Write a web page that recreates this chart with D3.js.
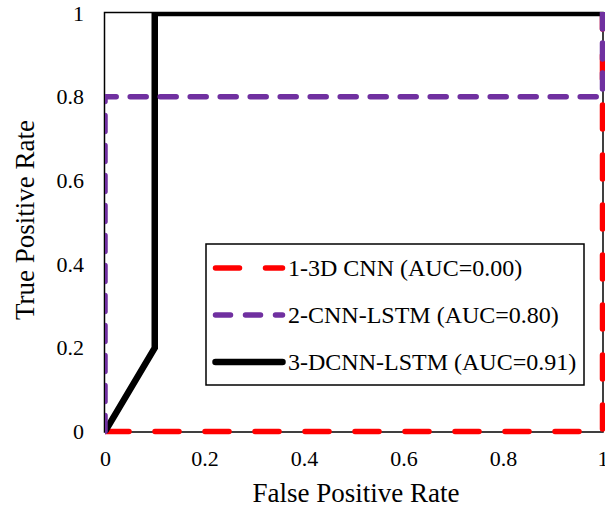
<!DOCTYPE html>
<html><head><meta charset="utf-8">
<script src="https://cdn.jsdelivr.net/npm/d3@7"></script>
<style>body{margin:0;background:#fff}svg{display:block}</style>
</head><body>
<svg id="c" width="605" height="511"></svg>
<script>
const xTicks = [0, 0.2, 0.4, 0.6, 0.8, 1];
const yTicks = [0, 0.2, 0.4, 0.6, 0.8, 1];
const seriesNames = ["1-3D CNN (AUC=0.00)", "2-CNN-LSTM (AUC=0.80)", "3-DCNN-LSTM (AUC=0.91)"];
const cnn3dFpr = [0, 1, 1];
const cnn3dTpr = [0, 0, 1];
const cnnLstmFpr = [0, 0, 1, 1];
const cnnLstmTpr = [0, 0.8, 0.8, 1];
const dcnnLstmFpr = [0, 0.1, 0.1, 1];
const dcnnLstmTpr = [0, 0.2, 1, 1];

const svg = d3.select("#c");
const m = {l:105, t:13, r:602.5, b:431.5};
const x = d3.scaleLinear().domain([0,1]).range([m.l, m.r]);
const y = d3.scaleLinear().domain([0,1]).range([m.b, m.t]);
const font = "'Liberation Serif','Times New Roman',serif";

svg.append("defs").append("clipPath").attr("id","clip")
  .append("rect").attr("x", m.l).attr("y", 12).attr("width", 700).attr("height", 500);

// frame
svg.append("rect").attr("x", 104.5).attr("y", 12.5).attr("width", 603-104.5).attr("height", 432-12.5)
  .attr("fill","none").attr("stroke","#000").attr("stroke-width",1.5);

const fmt = d => d===0||d===1 ? String(d) : d.toFixed(1);
const xa = svg.append("g").attr("transform",`translate(0,${m.b})`)
  .call(d3.axisBottom(x).tickValues(xTicks).tickFormat(fmt).tickSize(0).tickPadding(19));
const ya = svg.append("g").attr("transform",`translate(${m.l},0)`)
  .call(d3.axisLeft(y).tickValues(yTicks).tickFormat(fmt).tickSize(0).tickPadding(21));
[xa, ya].forEach(a => {
  a.select(".domain").remove();
  a.selectAll("text").attr("font-family", font).attr("font-size", 22).attr("fill","#000");
});

const line = d3.line().x(d=>x(d[0])).y(d=>y(d[1]));
const styles = [
  {color:"#ff0000", dash:"24,26", w:5.5, cap:"round"},
  {color:"#7030a0", dash:"16,14", w:5.5, cap:"round"},
  {color:"#000000", dash:null, w:6.5, cap:"butt"}
];
const data = [
  d3.zip(cnn3dFpr, cnn3dTpr),
  d3.zip(cnnLstmFpr, cnnLstmTpr),
  d3.zip(dcnnLstmFpr, dcnnLstmTpr)
];
const plot = svg.append("g").attr("clip-path","url(#clip)");
[0,2,1].forEach(i => {
  plot.append("path").attr("d", line(data[i])).attr("fill","none")
    .attr("stroke", styles[i].color).attr("stroke-width", styles[i].w)
    .attr("stroke-linecap", styles[i].cap)
    .attr("stroke-linejoin","miter")
    .attr("stroke-dasharray", styles[i].dash);
});

// axis titles
svg.append("text").attr("x", 356).attr("y", 502).attr("text-anchor","middle")
  .attr("font-family", font).attr("font-size", 27).text("False Positive Rate");
svg.append("text").attr("transform", `translate(34,220) rotate(-90)`).attr("text-anchor","middle")
  .attr("font-family", font).attr("font-size", 27).text("True Positive Rate");

// legend
const lg = svg.append("g");
lg.append("rect").attr("x",206).attr("y",244).attr("width",378).attr("height",141)
  .attr("fill","#fff").attr("stroke","#000").attr("stroke-width",1.5);
const rowY = [268, 315, 362];
const legDash = ["24,26", "15,15", null];
seriesNames.forEach((n,i) => {
  lg.append("line").attr("x1",215.5).attr("x2",282.5).attr("y1",rowY[i]).attr("y2",rowY[i])
    .attr("stroke", styles[i].color).attr("stroke-width", styles[i].w)
    .attr("stroke-linecap","round").attr("stroke-dasharray", legDash[i]);
  lg.append("text").attr("x",288).attr("y",rowY[i]).attr("dy","0.35em")
    .attr("font-family", font).attr("font-size", 24).text(n);
});
</script>
</body></html>
